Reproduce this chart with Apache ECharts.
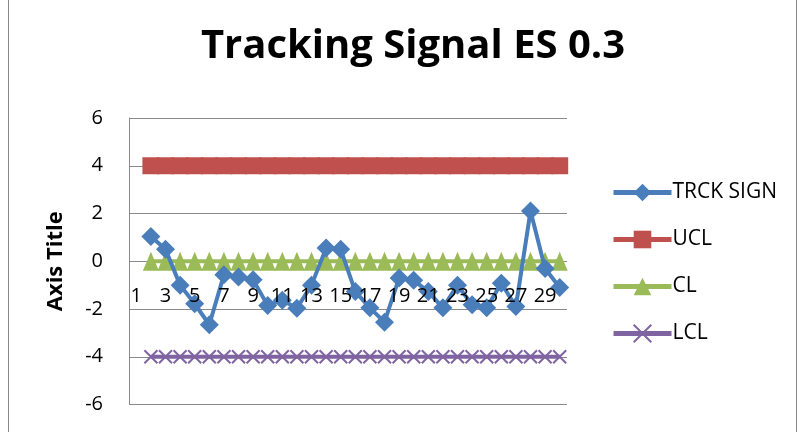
<!DOCTYPE html>
<html>
<head>
<meta charset="utf-8">
<script src="https://cdn.jsdelivr.net/npm/echarts@6/dist/echarts.min.js"></script>
<style>
html,body{margin:0;padding:0;background:#fff;}
#chart{width:799px;height:432px;}
</style>
</head>
<body>
<div id="chart"></div>
<script>
var categories = ['1','2','3','4','5','6','7','8','9','10','11','12','13','14','15','16','17','18','19','20','21','22','23','24','25','26','27','28','29','30'];
var trckSign = [null, 1.04, 0.5, -1.0, -1.78, -2.66, -0.57, -0.66, -0.78, -1.85, -1.63, -1.97, -1.0, 0.55, 0.5, -1.27, -1.95, -2.55, -0.7, -0.8, -1.27, -1.95, -1.0, -1.82, -1.95, -0.92, -1.9, 2.1, -0.3, -1.1];
var ucl = [null, 4,4,4,4,4,4,4,4,4,4,4,4,4,4,4,4,4,4,4,4,4,4,4,4,4,4,4,4,4];
var cl  = [null, 0,0,0,0,0,0,0,0,0,0,0,0,0,0,0,0,0,0,0,0,0,0,0,0,0,0,0,0,0];
var lcl = [null, -4,-4,-4,-4,-4,-4,-4,-4,-4,-4,-4,-4,-4,-4,-4,-4,-4,-4,-4,-4,-4,-4,-4,-4,-4,-4,-4,-4,-4];
var yTicks = {min: -6, max: 6, interval: 2};

var FONT = '"Open Sans"';
var chart = echarts.init(document.getElementById('chart'), null, {renderer: 'canvas'});
var crossPath = 'path://M0,0L10,10M10,0L0,10';
chart.setOption({
  animation: false,
  backgroundColor: '#ffffff',
  title: {
    text: 'Tracking Signal ES 0.3',
    left: 408, top: 22, textAlign: 'center',
    textStyle: {fontFamily: FONT, fontWeight: 'bold', fontSize: 40, color: '#000'}
  },
  graphic: [{
    type: 'rect', shape: {x: 8.5, y: -2, width: 788, height: 440},
    style: {fill: null, stroke: '#8a8a8a', lineWidth: 1}, silent: true
  }],
  legend: {
    orient: 'vertical', left: 606, top: 177,
    itemGap: 26, itemWidth: 58, itemHeight: 22,
    lineStyle: {width: 5},
    textStyle: {fontFamily: FONT, fontSize: 21, color: '#000', padding: [0,0,0,-4]},
    data: ['TRCK SIGN','UCL','CL','LCL']
  },
  grid: {left: 129, right: 232, top: 118, bottom: 27.5, containLabel: false, outerBoundsMode: 'none'},
  xAxis: {
    type: 'category', data: categories, boundaryGap: true, z: 10,
    axisLine: {show: false},
    axisTick: {show: false},
    axisLabel: {interval: 1, margin: -118, fontFamily: FONT, fontSize: 20, color: '#000'},
    splitLine: {show: false}
  },
  yAxis: {
    type: 'value', min: yTicks.min, max: yTicks.max, interval: yTicks.interval,
    name: 'Axis Title', nameLocation: 'middle', nameRotate: 90, nameGap: 62,
    nameTextStyle: {fontFamily: FONT, fontWeight: 'bold', fontSize: 22, color: '#000'},
    axisLine: {show: true, lineStyle: {color: '#8a8a8a'}},
    axisTick: {show: false},
    axisLabel: {margin: 26, fontFamily: FONT, fontSize: 20, color: '#000'},
    splitLine: {show: true, lineStyle: {color: '#8a8a8a', width: 1}}
  },
  series: [
    {name: 'UCL', type: 'line', data: ucl, z: 2, symbol: 'rect', symbolSize: 17, showAllSymbol: true,
     lineStyle: {color: '#C0504D', width: 4}, itemStyle: {color: '#C0504D'}},
    {name: 'CL', type: 'line', data: cl, z: 3, symbol: 'triangle', symbolSize: [16, 19], showAllSymbol: true,
     lineStyle: {color: '#9BBB59', width: 4}, itemStyle: {color: '#9BBB59'}},
    {name: 'LCL', type: 'line', data: lcl, z: 2, symbol: crossPath, symbolSize: 13, showAllSymbol: true,
     lineStyle: {color: '#8064A2', width: 4},
     itemStyle: {color: '#8064A2', borderColor: '#8064A2', borderWidth: 2}},
    {name: 'TRCK SIGN', type: 'line', data: trckSign, z: 4, symbol: 'diamond', symbolSize: 19, showAllSymbol: true,
     lineStyle: {color: '#4A7EBB', width: 4}, itemStyle: {color: '#4A7EBB'}}
  ]
});
</script>
</body>
</html>
